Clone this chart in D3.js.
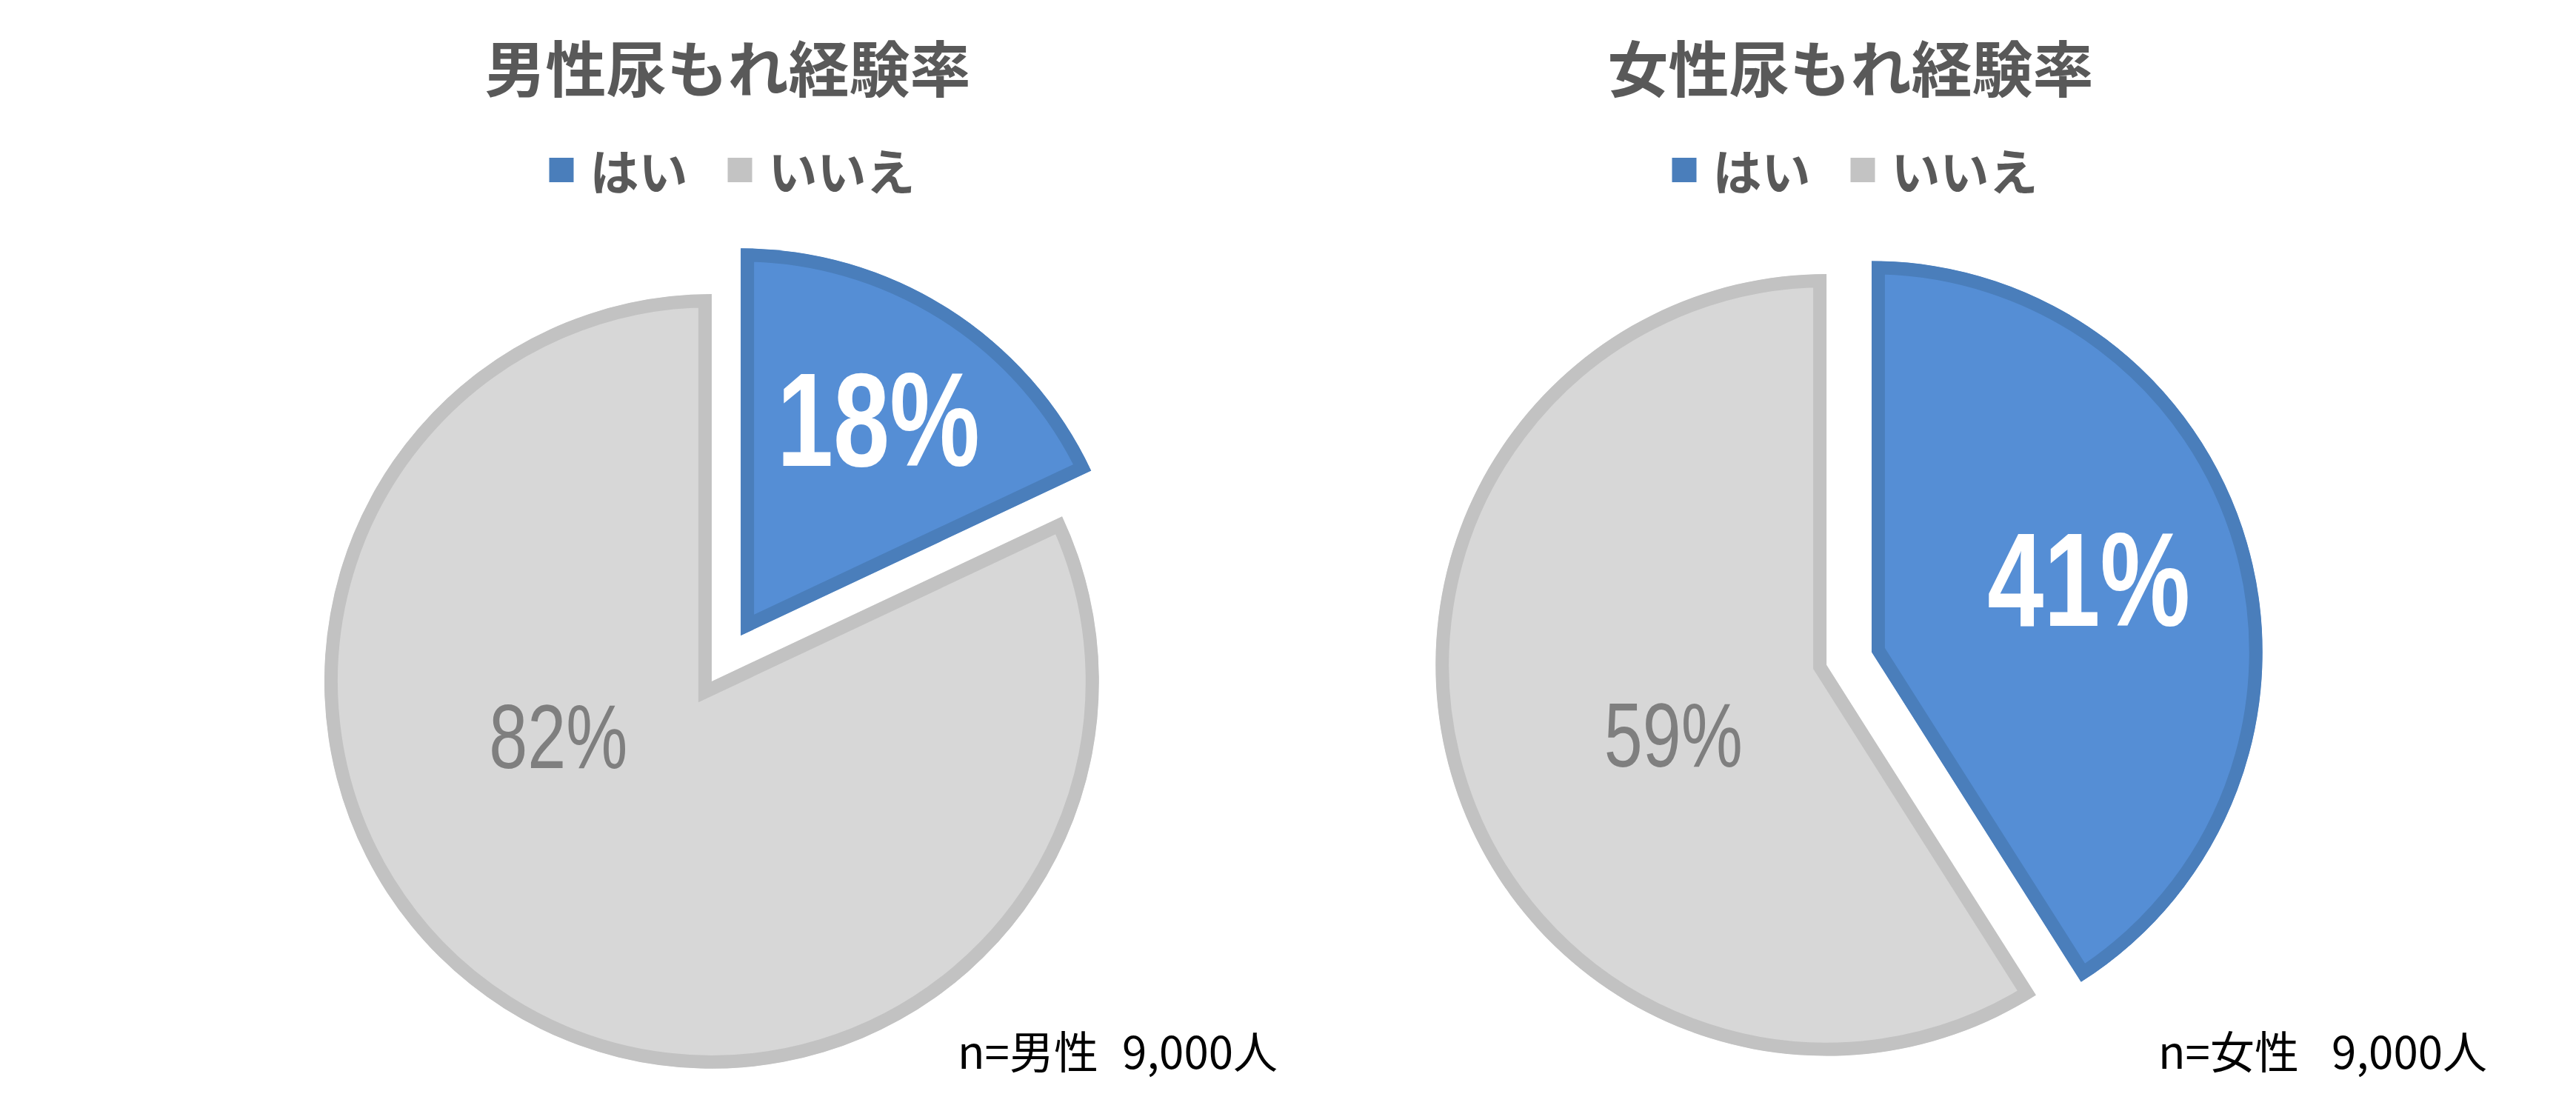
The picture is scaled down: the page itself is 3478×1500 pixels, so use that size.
<!DOCTYPE html>
<html>
<head>
<meta charset="utf-8">
<script src="https://cdn.jsdelivr.net/npm/d3@7"></script>
<style>
  body { margin: 0; background: #fff; }
</style>
</head>
<body>
<svg id="chart" width="3478" height="1500"></svg>
<script>
// data
const titles = ["男性尿もれ経験率", "女性尿もれ経験率"]
const categories = ["はい", "いいえ"]
const yesValues = [18, 41]
const noValues = [82, 59]
const noteLabels = ["n=男性", "n=女性"]
const sampleSizes = ["9,000人", "9,000人"]

// layout / style
const W = 3478, H = 1500
const fills = ["#558ed5", "#d7d7d7"]
const strokes = ["#4a7ebb", "#c2c2c2"]
const keyColors = ["#4a7ebb", "#c3c3c3"]
const labelColors = ["#ffffff", "#7f7f7f"]
const textGrey = "#595959"
const jpFont = "'Noto Sans CJK JP', 'Noto Sans', sans-serif"
const numFont = "'Liberation Sans', Arial, sans-serif"

const plotRadius = 559.5
const explode = [0.07, 0.06]
const strokeW = 18
const pieY = 889
// label placement per panel & slice: [bearing in degrees, fraction of radius]
const labelPlace = [
    [[32.3, 0.665], [250.6, 0.42]],
    [[71.2, 0.587], [245.7, 0.43]]
]
const noteX = [[1293, 1725], [2914, 3358]]

const svg = d3.select("#chart")

const px = d3.scalePoint().domain(titles).range([980.5, 2496.5])

const pie = d3.pie().sort(null).value(d => d.value)

titles.forEach((title, i) => {
    let cx = px(title)
    let g = svg.append("g").attr("class", "panel")
    let rows = categories.map((c, j) => ({cat: c, value: j == 0 ? yesValues[i] : noValues[i], j: j}))
    let arcs = pie(rows)

    let r = plotRadius / (1 + explode[i])
    let off = r * explode[i]
    let arc = d3.arc().innerRadius(0).outerRadius(r)

    // TITLE
    g.append("text")
        .text(title)
        .attr("x", cx + 2)
        .attr("y", 88.5)
        .attr("text-anchor", "middle")
        .attr("dominant-baseline", "central")
        .style("font-family", jpFont)
        .style("font-weight", "bold")
        .style("font-size", "82px")
        .attr("fill", textGrey)

    // LEGEND
    let leg = g.append("g")
    let lx = 0
    categories.forEach((c, j) => {
        leg.append("rect")
            .attr("x", lx).attr("y", 213)
            .attr("width", 33).attr("height", 33)
            .attr("fill", keyColors[j])
        lx += 33 + 22
        let t = leg.append("text")
            .text(c)
            .attr("x", lx).attr("y", 228)
            .attr("dominant-baseline", "central")
            .style("font-family", jpFont)
            .style("font-weight", "bold")
            .style("font-size", "66px")
            .attr("fill", textGrey)
        lx += t.node().getComputedTextLength()
        if (j < categories.length - 1) lx += 54
    })
    leg.attr("transform", "translate(" + (cx + 8 - lx / 2) + ",0)")

    // SLICES
    arcs.forEach((d, j) => {
        let mid = (d.startAngle + d.endAngle) / 2
        let sx = cx + off * Math.sin(mid)
        let sy = pieY - off * Math.cos(mid)
        let sg = g.append("g").attr("transform", "translate(" + sx + "," + sy + ")")
        let id = "clip-" + i + "-" + j
        sg.append("clipPath").attr("id", id)
            .append("path").attr("d", arc(d))
        // stroke sits inside the slice edge
        sg.append("path")
            .attr("d", arc(d))
            .attr("fill", fills[j])
            .attr("stroke", strokes[j])
            .attr("stroke-width", strokeW * 2)
            .attr("stroke-linejoin", "miter")
            .attr("clip-path", "url(#" + id + ")")

        let [bearing, frac] = labelPlace[i][j]
        let a = bearing * Math.PI / 180
        let tx = frac * r * Math.sin(a)
        let ty = -frac * r * Math.cos(a)
        let size = j == 0 ? 180 : 123
        sg.append("text")
            .text(d.data.value + "%")
            .attr("transform", "translate(" + tx + "," + (ty + size * 0.358) + ") scale(0.76,1)")
            .attr("text-anchor", "middle")
            .style("font-family", numFont)
            .style("font-weight", j == 0 ? "bold" : "normal")
            .style("font-size", size + "px")
            .attr("fill", labelColors[j])
    })

    // NOTE
    g.append("text")
        .text(noteLabels[i])
        .attr("x", noteX[i][0]).attr("y", 1416)
        .attr("dominant-baseline", "central")
        .style("font-family", jpFont)
        .style("font-size", "60px")
        .attr("fill", "#000")
    g.append("text")
        .text(sampleSizes[i])
        .attr("x", noteX[i][1]).attr("y", 1416)
        .attr("text-anchor", "end")
        .attr("dominant-baseline", "central")
        .style("font-family", jpFont)
        .style("font-size", "60px")
        .attr("fill", "#000")
})
</script>
</body>
</html>
